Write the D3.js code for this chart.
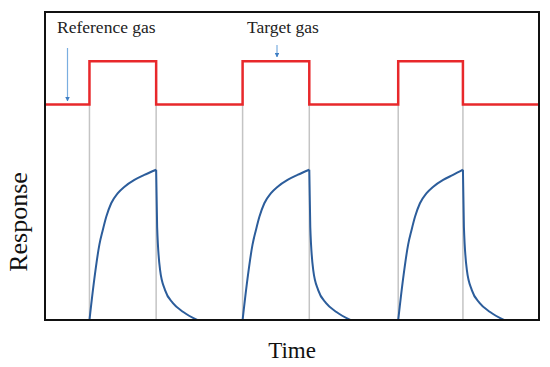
<!DOCTYPE html>
<html>
<head>
<meta charset="utf-8">
<script src="https://cdn.jsdelivr.net/npm/d3@7"></script>
<style>
  body { margin: 0; background: #fff; }
  svg { display: block; }
</style>
</head>
<body>
<svg id="chart" width="550" height="367"></svg>
<script>
// gas switching: [on, off] times of each target gas pulse
const pulses = [[9, 22.5], [40, 53.5], [71.5, 84.6]]
const gasLevels = { reference: 70, target: 84 }

// sensor response profile: rise times relative to pulse on, peak at pulse off,
// decay times relative to pulse off
const riseT = [0, 1, 2, 2.7, 3.4, 4.4, 5.7, 7.1, 9.1, 11.1]
const riseR = [0, 13.5, 24.4, 29.2, 33.5, 37.9, 41.1, 43.3, 45.5, 47.1]
const peakR = 48.8
const decayT = [0.2, 0.8, 1.8, 3.4, 5.5, 8.3]
const decayR = [30.2, 16.2, 9.7, 5.5, 2.6, 0]

const labels = { x: 'Time', y: 'Response', ref: 'Reference gas', target: 'Target gas' }

let margin = { top: 12, right: 11, bottom: 47, left: 45 }
let width = 550 - margin.left - margin.right
let height = 367 - margin.top - margin.bottom

let svg = d3.select('#chart')
svg.append('defs').append('marker')
  .attr('id', 'head')
  .attr('viewBox', '0 0 10 10')
  .attr('refX', 9).attr('refY', 5)
  .attr('markerWidth', 4).attr('markerHeight', 4)
  .attr('orient', 'auto')
  .append('path').attr('d', 'M0,0L10,5L0,10Z').attr('fill', '#3f7fc4')

let chart = svg.append('g')
  .attr('transform', 'translate(' + margin.left + ',' + margin.top + ')')

let x = d3.scaleLinear().domain([0, 100]).range([0, width])
let y = d3.scaleLinear().domain([0, 100]).range([height, 0])

// gray guides at every switch
let switches = pulses.flat()
chart.selectAll('.guide')
  .data(switches)
  .enter()
  .append('line')
  .attr('class', 'guide')
  .attr('x1', d => x(d)).attr('x2', d => x(d))
  .attr('y1', y(gasLevels.reference)).attr('y2', y(0))
  .attr('stroke', '#c4c4c4')
  .attr('stroke-width', 1.5)

// red gas signal
let gasPts = [[0, gasLevels.reference]]
pulses.forEach(p => {
  gasPts.push([p[0], gasLevels.reference], [p[0], gasLevels.target],
    [p[1], gasLevels.target], [p[1], gasLevels.reference])
})
gasPts.push([100, gasLevels.reference])
let line = d3.line().x(d => x(d[0])).y(d => y(d[1]))
chart.append('path')
  .attr('d', line(gasPts))
  .attr('fill', 'none')
  .attr('stroke', '#e8282b')
  .attr('stroke-width', 2.5)

// blue responses: rise and decay drawn as two smooth pieces meeting at the peak
let respLine = d3.line().x(d => x(d[0])).y(d => y(d[1])).curve(d3.curveMonotoneX)
pulses.forEach(p => {
  let rise = riseT.map((t, i) => [p[0] + t, riseR[i]])
  rise.push([p[1], peakR])
  let decay = [[p[1], peakR]].concat(decayT.map((t, i) => [p[1] + t, decayR[i]]))
  chart.selectAll(null)
    .data([rise, decay])
    .enter()
    .append('path')
    .attr('d', respLine)
    .attr('fill', 'none')
    .attr('stroke', '#2c5d9b')
    .attr('stroke-width', 2)
    .attr('stroke-linejoin', 'round')
})

// frame
chart.append('rect')
  .attr('width', width).attr('height', height)
  .attr('fill', 'none')
  .attr('stroke', '#111')
  .attr('stroke-width', 2)

// annotations
let serif = '"Liberation Serif", "DejaVu Serif", serif'
chart.append('text')
  .attr('x', 12).attr('y', 21)
  .attr('font-family', serif).attr('font-size', 17.5).attr('fill', '#222')
  .text(labels.ref)
chart.append('line')
  .attr('x1', 22.5).attr('x2', 22.5).attr('y1', 36).attr('y2', 89)
  .attr('stroke', '#7aaee0').attr('stroke-width', 1.2)
  .attr('marker-end', 'url(#head)')

chart.append('text')
  .attr('x', 202).attr('y', 21)
  .attr('font-family', serif).attr('font-size', 17.5).attr('fill', '#222')
  .text(labels.target)
chart.append('line')
  .attr('x1', 232).attr('x2', 232).attr('y1', 33).attr('y2', 45)
  .attr('stroke', '#7aaee0').attr('stroke-width', 1.2)
  .attr('marker-end', 'url(#head)')

svg.append('text')
  .attr('transform', 'translate(' + (margin.left + width / 2) + ',358)')
  .attr('text-anchor', 'middle')
  .attr('font-family', serif).attr('font-size', 23).attr('fill', '#111')
  .text(labels.x)
svg.append('text')
  .attr('transform', 'translate(27,222) rotate(-90)')
  .attr('text-anchor', 'middle')
  .attr('font-family', serif).attr('font-size', 26).attr('fill', '#111')
  .text(labels.y)
</script>
</body>
</html>
